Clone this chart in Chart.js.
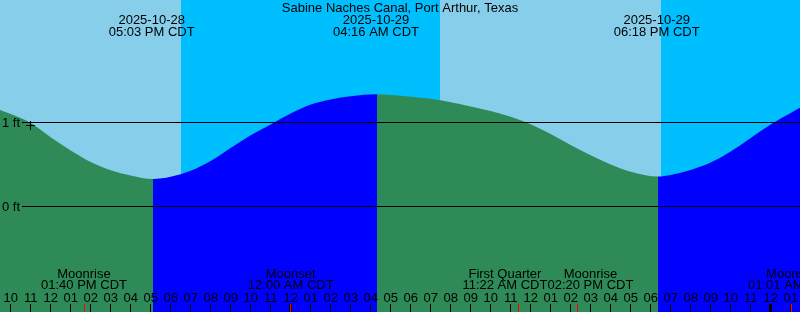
<!DOCTYPE html>
<html>
<head>
<meta charset="utf-8">
<script src="https://cdn.jsdelivr.net/npm/chart.js@4.4.1/dist/chart.umd.min.js"></script>
<style>
  html, body { margin: 0; padding: 0; background: #fff; }
  canvas { display: block; }
</style>
</head>
<body>
<canvas id="tideChart" width="800" height="312"></canvas>
<script>
// All times are hours counted from 2025-10-28 00:00 CDT
const tideHours = [9, 10, 11, 12, 13, 14, 15, 16, 17.1167, 18, 19, 20, 21, 22, 23, 24, 25, 26, 27, 28.3167,
  29, 30, 31, 32, 33, 34, 35, 36, 37, 38, 39, 40, 41, 42.3667, 43, 44, 45, 46, 47, 48, 49, 50];
const tideFeet = [1.185, 1.095, 0.988, 0.819, 0.662, 0.524, 0.426, 0.364, 0.321, 0.348, 0.420, 0.536, 0.690, 0.842, 0.970, 1.100, 1.208, 1.269, 1.307, 1.330,
  1.321, 1.301, 1.276, 1.236, 1.185, 1.131, 1.062, 0.974, 0.857, 0.725, 0.604, 0.493, 0.408, 0.351, 0.369, 0.429, 0.518, 0.649, 0.810, 0.970, 1.107, 1.238];

const extremeHours = [17.05, 28.267, 42.3];
const extremeDates = ['2025-10-28', '2025-10-29', '2025-10-29'];
const extremeTimes = ['05:03 PM CDT', '04:16 AM CDT', '06:18 PM CDT'];

const moonHours = [13.667, 24, 35.367, 38.333, 49.017];
const moonNames = ['Moonrise', 'Moonset', 'First Quarter', 'Moonrise', 'Moonset'];
const moonTimes = ['01:40 PM CDT', '12:00 AM CDT', '11:22 AM CDT', '02:20 PM CDT', '01:01 AM CDT'];

// sunset -> sunrise
const nightStart = [18.52, 42.52];
const nightEnd = [31.47, 60];

const tickHours = [10, 11, 12, 13, 14, 15, 16, 17, 18, 19, 20, 21, 22, 23, 24, 25, 26, 27, 28, 29,
  30, 31, 32, 33, 34, 35, 36, 37, 38, 39, 40, 41, 42, 43, 44, 45, 46, 47, 48, 49];
const tickLabels = ['10', '11', '12', '01', '02', '03', '04', '05', '06', '07', '08', '09', '10', '11', '12', '01', '02', '03', '04', '05',
  '06', '07', '08', '09', '10', '11', '12', '01', '02', '03', '04', '05', '06', '07', '08', '09', '10', '11', '12', '01'];
const midnightHours = [24, 48];

const levelFeet = [0, 1];
const levelLabels = ['0 ft', '1 ft'];

const nowHour = [10.99];
const nowFeet = [0.958];

const title = 'Sabine Naches Canal, Port Arthur, Texas';

// colours
const DAY_SKY = '#87CEEB';
const NIGHT_SKY = '#00BFFF';
const FALLING = '#2E8B57';
const RISING = '#0000FF';
const FONT = '13px "Liberation Sans", Arial, sans-serif';

const crisp = v => Math.floor(v) + 0.5;

// push overlapping two-line labels apart so they just touch
function spreadLabels(ctx, centers, lines1, lines2) {
  const xs = centers.slice();
  const widths = xs.map((_, i) => Math.max(ctx.measureText(lines1[i]).width, ctx.measureText(lines2[i]).width));
  for (let i = 1; i < xs.length; i++) {
    const overlap = (xs[i - 1] + widths[i - 1] / 2) - (xs[i] - widths[i] / 2);
    if (overlap > 0) {
      xs[i - 1] -= overlap / 2;
      xs[i] += overlap / 2;
    }
  }
  return xs;
}

const tidePlugin = {
  id: 'tideDecor',
  beforeDatasetsDraw(chart) {
    const { ctx, chartArea: a, scales: { x } } = chart;
    ctx.save();
    ctx.fillStyle = DAY_SKY;
    ctx.fillRect(a.left, a.top, a.right - a.left, a.bottom - a.top);
    ctx.fillStyle = NIGHT_SKY;
    nightStart.forEach((s, i) => {
      const x0 = Math.round(x.getPixelForValue(s));
      const x1 = Math.round(x.getPixelForValue(nightEnd[i]));
      ctx.fillRect(x0, a.top, x1 - x0, a.bottom - a.top);
    });
    ctx.restore();
  },
  afterDatasetsDraw(chart) {
    const { ctx, chartArea: a, scales: { x, y } } = chart;
    ctx.save();
    ctx.font = FONT;
    ctx.fillStyle = '#000';
    ctx.strokeStyle = '#000';
    ctx.lineWidth = 1;

    // level lines
    levelFeet.forEach((f, i) => {
      const py = Math.round(y.getPixelForValue(f));
      ctx.beginPath();
      ctx.moveTo(22, py + 0.5);
      ctx.lineTo(a.right, py + 0.5);
      ctx.stroke();
      ctx.textAlign = 'left';
      ctx.fillText(levelLabels[i], 2, py + 4.5);
    });

    // title + tide extremes
    ctx.textAlign = 'center';
    ctx.fillText(title, 400, 12);
    extremeHours.forEach((h, i) => {
      const px = x.getPixelForValue(h);
      ctx.fillText(extremeDates[i], px, 24);
      ctx.fillText(extremeTimes[i], px, 36);
    });

    // moon events
    const moonX = spreadLabels(ctx, moonHours.map(h => x.getPixelForValue(h)), moonNames, moonTimes);
    moonX.forEach((px, i) => {
      ctx.fillText(moonNames[i], px, 278);
      ctx.fillText(moonTimes[i], px, 289);
    });

    // hour ticks
    tickHours.forEach((h, i) => {
      const px = x.getPixelForValue(h);
      ctx.fillText(tickLabels[i], px, 302);
      ctx.beginPath();
      ctx.moveTo(crisp(px), 304);
      ctx.lineTo(crisp(px), a.bottom);
      ctx.stroke();
    });
    ctx.lineWidth = 3;
    midnightHours.forEach(h => {
      const px = crisp(x.getPixelForValue(h));
      ctx.beginPath();
      ctx.moveTo(px, 304);
      ctx.lineTo(px, a.bottom);
      ctx.stroke();
    });
    ctx.lineWidth = 1;
    ctx.strokeStyle = '#FF0000';
    moonHours.forEach(h => {
      const px = crisp(x.getPixelForValue(h));
      ctx.beginPath();
      ctx.moveTo(px, 304);
      ctx.lineTo(px, a.bottom);
      ctx.stroke();
    });
    ctx.restore();
  }
};

new Chart(document.getElementById('tideChart'), {
  type: 'line',
  data: {
    datasets: [{
      label: 'Tide',
      data: tideHours.map((h, i) => ({ x: h, y: tideFeet[i] })),
      order: 1,
      borderWidth: 0,
      pointRadius: 0,
      fill: 'start',
      cubicInterpolationMode: 'monotone',
      backgroundColor: FALLING,
      segment: {
        backgroundColor: c => (c.p1.parsed.y < c.p0.parsed.y ? FALLING : RISING)
      }
    }, {
      label: 'Now',
      data: nowHour.map((h, i) => ({ x: h, y: nowFeet[i] })),
      order: 0,
      showLine: false,
      pointStyle: 'cross',
      pointRadius: 4.5,
      borderColor: '#000',
      borderWidth: 1
    }]
  },
  options: {
    responsive: false,
    animation: false,
    layout: { padding: 0, autoPadding: false },
    plugins: {
      legend: { display: false },
      tooltip: { enabled: false }
    },
    scales: {
      x: { type: 'linear', display: false, min: 9.4667, max: 49.4667 },
      y: { type: 'linear', display: false, min: -106 / 84, max: 206 / 84 }
    }
  },
  plugins: [tidePlugin]
});
</script>
</body>
</html>
